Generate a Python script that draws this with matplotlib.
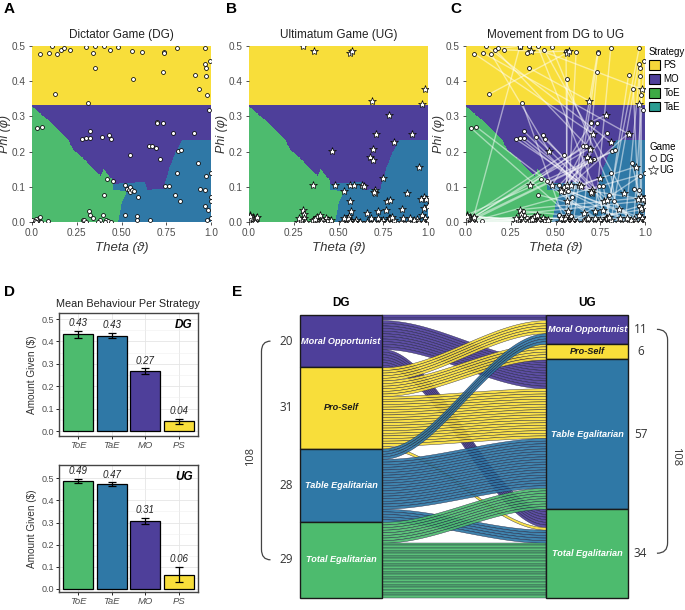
import numpy as np
import matplotlib
matplotlib.use('Agg')
import matplotlib.pyplot as plt
from matplotlib.colors import ListedColormap
from matplotlib.patches import Rectangle, Patch, PathPatch
from matplotlib.lines import Line2D
from matplotlib.path import Path

plt.rcParams['font.family'] = ['Liberation Sans', 'DejaVu Sans']

# strategy colours
col = {'PS': '#F8DE3A', 'MO': '#4E3F9A', 'ToE': '#4DBB6E', 'TaE': '#2F78A6'}
legend_col = {'PS': '#F5D63A', 'MO': '#4E3F9A', 'ToE': '#3DAA44', 'TaE': '#2B9C92'}

# ---- strategy map boundaries (theta, phi)
ps_cut = 0.333
toe_top_theta = [0.0, 0.10, 0.20, 0.23, 0.30, 0.33, 0.385, 0.40, 0.415, 0.46, 0.55]
toe_top_phi = [0.328, 0.285, 0.235, 0.205, 0.175, 0.156, 0.130, 0.152, 0.140, 0.113, 0.100]
tae_top_theta = [0.45, 0.63, 0.645, 0.735, 0.77, 0.80, 0.84, 1.0]
tae_top_phi = [0.108, 0.113, 0.090, 0.095, 0.156, 0.195, 0.233, 0.233]
divider_phi = [0.0, 0.05, 0.088, 0.090, 0.5]
divider_theta = [0.482, 0.50, 0.53, 0.455, 0.455]

# ---- DG participants (circles), by strategy
dg_mo_theta = [0.99, 0.697, 0.697, 0.731, 0.785, 0.907, 0.323, 0.30, 0.28, 0.325, 0.389, 0.43, 0.441,
               0.656, 0.671, 0.69, 0.546, 0.716, 0.815, 0.834]
dg_mo_phi = [0.317, 0.284, 0.28, 0.28, 0.254, 0.252, 0.258, 0.239, 0.235, 0.239, 0.242, 0.246, 0.235,
             0.216, 0.216, 0.209, 0.19, 0.18, 0.201, 0.204]
dg_ps_theta = [0.047, 0.093, 0.112, 0.14, 0.164, 0.179, 0.215, 0.129, 0.342, 0.351, 0.35, 0.40, 0.437,
               0.478, 0.559, 0.615, 0.566, 0.314, 0.736, 0.738, 0.731, 0.809, 0.968, 0.908, 0.964,
               0.972, 0.996, 0.935, 0.97, 0.979, 0.30]
dg_ps_phi = [0.478, 0.481, 0.50, 0.478, 0.489, 0.493, 0.489, 0.363, 0.481, 0.50, 0.438, 0.50, 0.489,
             0.497, 0.485, 0.483, 0.405, 0.339, 0.484, 0.479, 0.427, 0.495, 0.495, 0.417, 0.45,
             0.438, 0.457, 0.377, 0.415, 0.361, 0.497]
dg_tae_theta = [0.52, 0.53, 0.54, 0.545, 0.55, 0.56, 0.57, 0.594, 0.52, 0.589, 0.589, 0.66, 0.744, 0.766,
                0.809, 0.80, 0.828, 0.927, 0.94, 0.968, 0.974, 0.968, 0.981, 1.0, 1.0, 1.0, 1.0, 0.98]
dg_tae_phi = [0.104, 0.095, 0.09, 0.085, 0.10, 0.092, 0.088, 0.072, 0.021, 0.016, 0.005, 0.005, 0.103,
              0.103, 0.14, 0.078, 0.059, 0.168, 0.094, 0.092, 0.131, 0.045, 0.035, 0.01, 0.138, 0.07,
              0.06, 0.005]
dg_toe_theta = [0.03, 0.058, 0.42, 0.454, 0.40, 0.32, 0.323, 0.286, 0.29, 0.38, 0.394, 0.415, 0.425,
                0.037, 0.047, 0.028, 0.09, 0.0, 0.01, 0.02, 0.05, 0.37, 0.44, 0.30, 0.34, 0.0, 0.015,
                0.41, 0.025]
dg_toe_phi = [0.266, 0.27, 0.121, 0.116, 0.078, 0.031, 0.02, 0.005, 0.005, 0.005, 0.02, 0.005, 0.003,
              0.01, 0.015, 0.005, 0.003, 0.0, 0.0, 0.008, 0.0, 0.0, 0.0, 0.0, 0.01, 0.005, 0.003,
              0.0, 0.0]

# ---- UG participants (stars), by strategy
ug_mo_theta = [0.964, 0.783, 0.712, 0.912, 0.81, 0.462, 0.695, 0.675, 0.695, 0.948, 0.748]
ug_mo_phi = [0.334, 0.304, 0.249, 0.249, 0.227, 0.203, 0.206, 0.185, 0.176, 0.157, 0.124]
ug_ps_theta = [0.303, 0.364, 0.564, 0.578, 0.985, 0.688]
ug_ps_phi = [0.50, 0.486, 0.481, 0.486, 0.377, 0.344]
ug_tae_theta = [0.48, 0.531, 0.564, 0.587, 0.63, 0.64, 0.705, 0.705, 0.70, 0.77, 0.79, 0.765, 0.882,
                0.854, 0.564, 0.57, 0.56, 0.546, 0.574, 0.60, 0.658, 0.723, 0.78, 0.79, 0.81, 0.89,
                0.938, 0.966, 0.975, 0.98, 0.99, 0.995, 0.985, 0.55, 0.555, 0.565, 0.70, 0.75, 0.77,
                0.80, 0.85, 0.92, 0.95, 1.0, 1.0, 0.96, 0.59, 0.66, 0.68, 0.62, 0.72, 0.74, 0.86,
                0.90, 0.97, 0.52, 0.53]
ug_tae_phi = [0.104, 0.087, 0.106, 0.106, 0.105, 0.102, 0.09, 0.082, 0.086, 0.059, 0.062, 0.035, 0.082,
              0.037, 0.059, 0.03, 0.016, 0.008, 0.0, 0.005, 0.026, 0.031, 0.01, 0.012, 0.005, 0.0,
              0.008, 0.02, 0.04, 0.07, 0.065, 0.0, 0.01, 0.005, 0.012, 0.0, 0.0, 0.005, 0.0, 0.015,
              0.0, 0.005, 0.0, 0.005, 0.045, 0.065, 0.0, 0.0, 0.01, 0.0, 0.012, 0.0, 0.01, 0.012,
              0.0, 0.0, 0.01]
ug_toe_theta = [0.355, 0.0, 0.01, 0.02, 0.005, 0.03, 0.015, 0.04, 0.0, 0.025, 0.30, 0.305, 0.31, 0.276,
                0.38, 0.385, 0.41, 0.43, 0.45, 0.42, 0.36, 0.29, 0.395, 0.44, 0.0, 0.012, 0.035,
                0.045, 0.32, 0.37, 0.40, 0.28, 0.008, 0.46]
ug_toe_phi = [0.104, 0.0, 0.005, 0.015, 0.02, 0.008, 0.0, 0.01, 0.012, 0.0, 0.035, 0.024, 0.012, 0.0,
              0.015, 0.0, 0.008, 0.012, 0.0, 0.0, 0.005, 0.005, 0.02, 0.005, 0.005, 0.01, 0.0,
              0.015, 0.0, 0.008, 0.0, 0.012, 0.018, 0.005]

# ---- transitions DG (rows) -> UG (cols), order MO, PS, TaE, ToE
sankey_order = ['MO', 'PS', 'TaE', 'ToE']
sankey_names = {'MO': 'Moral Opportunist', 'PS': 'Pro-Self', 'TaE': 'Table Egalitarian',
                'ToE': 'Total Egalitarian'}
flows = np.array([[2, 0, 11, 7],
                  [5, 6, 19, 1],
                  [4, 0, 19, 5],
                  [0, 0, 8, 21]])

# ---- mean behaviour per strategy
bar_labels = ['ToE', 'TaE', 'MO', 'PS']
dg_mean = [0.432, 0.426, 0.268, 0.043]
dg_err = [0.016, 0.011, 0.012, 0.011]
ug_mean = [0.488, 0.474, 0.307, 0.064]
ug_err = [0.009, 0.007, 0.014, 0.035]

W, H = 685, 610
fig = plt.figure(figsize=(W / 100, H / 100), dpi=100)


def px_axes(x0, y0, x1, y1):
    return fig.add_axes([x0 / W, 1 - y1 / H, (x1 - x0) / W, (y1 - y0) / H])


# strategy map grid
theta_grid = np.linspace(0, 1, 400)
phi_grid = np.linspace(0, 0.5, 400)
T, P = np.meshgrid(theta_grid, phi_grid)
toe_top = np.interp(T, toe_top_theta, toe_top_phi)
tae_top = np.interp(T, tae_top_theta, tae_top_phi)
divider = np.interp(P, divider_phi, divider_theta)
region = np.ones(T.shape)
region[(T < divider) & (P < toe_top)] = 2
region[(T >= divider) & (P < tae_top)] = 3
region[P > ps_cut] = 0
cmap = ListedColormap([col['PS'], col['MO'], col['ToE'], col['TaE']])

dg = {'MO': (dg_mo_theta, dg_mo_phi), 'PS': (dg_ps_theta, dg_ps_phi),
      'TaE': (dg_tae_theta, dg_tae_phi), 'ToE': (dg_toe_theta, dg_toe_phi)}
ug = {'MO': (ug_mo_theta, ug_mo_phi), 'PS': (ug_ps_theta, ug_ps_phi),
      'TaE': (ug_tae_theta, ug_tae_phi), 'ToE': (ug_toe_theta, ug_toe_phi)}
dg_all_t = np.concatenate([dg[s][0] for s in sankey_order])
dg_all_p = np.concatenate([dg[s][1] for s in sankey_order])
ug_all_t = np.concatenate([ug[s][0] for s in sankey_order])
ug_all_p = np.concatenate([ug[s][1] for s in sankey_order])

# pair DG and UG points following the transition table
pairs = []
used = {s: 0 for s in sankey_order}
for i, si in enumerate(sankey_order):
    k_dg = 0
    for j, sj in enumerate(sankey_order):
        for n in range(flows[i, j]):
            pairs.append((dg[si][0][k_dg], dg[si][1][k_dg], ug[sj][0][used[sj]], ug[sj][1][used[sj]]))
            k_dg += 1
            used[sj] += 1

titles = ['Dictator Game (DG)', 'Ultimatum Game (UG)', 'Movement from DG to UG']
lefts = [32, 249, 466]
letters = ['A', 'B', 'C']
letter_x = [4, 226, 450]
for k in range(3):
    ax = px_axes(lefts[k], 46, lefts[k] + 179, 222)
    ax.imshow(region, extent=[0, 1, 0, 0.5], origin='lower', aspect='auto', cmap=cmap,
              vmin=-0.5, vmax=3.5, interpolation='nearest')
    if k == 2:
        for t0, p0, t1, p1 in pairs:
            ax.plot([t0, t1], [p0, p1], color='white', alpha=0.5, lw=1.0, zorder=2)
    if k in (0, 2):
        ax.plot(dg_all_t, dg_all_p, 'o', ms=2.8, mfc='white', mec='black', mew=0.55, zorder=3)
    if k in (1, 2):
        ax.plot(ug_all_t, ug_all_p, '*', ms=6, mfc='white', mec='black', mew=0.5, zorder=4)
    ax.set_xlim(0, 1)
    ax.set_ylim(0, 0.5)
    ax.set_xticks([0, 0.25, 0.5, 0.75, 1.0])
    ax.set_xticklabels(['0.0', '0.25', '0.50', '0.75', '1.0'])
    ax.set_yticks([0, 0.1, 0.2, 0.3, 0.4, 0.5])
    ax.set_yticklabels(['0.0', '0.1', '0.2', '0.3', '0.4', '0.5'])
    ax.tick_params(labelsize=7.2, labelcolor='#4D4D4D', length=2.5, width=0.6, color='#333333',
                   pad=2)
    for sp in ax.spines.values():
        sp.set_visible(False)
    ax.set_xlabel('Theta (ϑ)', fontsize=9.5, style='italic', color='#333333', labelpad=3)
    ax.set_ylabel('Phi (φ)', fontsize=9, style='italic', color='#333333')
    ax.yaxis.set_label_coords(-0.115, 0.5)
    ax.set_title(titles[k], fontsize=8.5, color='#222222', pad=6)
    fig.text(letter_x[k] / W, 1 - 13 / H, letters[k], fontsize=11, fontweight='bold')
    if k == 2:
        strat_handles = [Patch(facecolor=legend_col[s], edgecolor='black', lw=0.8, label=s)
                         for s in ['PS', 'MO', 'ToE', 'TaE']]
        leg1 = ax.legend(handles=strat_handles, title='Strategy', loc='upper left',
                         bbox_to_anchor=(0.99, 1.03), frameon=False, fontsize=7,
                         title_fontsize=7, handlelength=1.1, handleheight=1.1,
                         handletextpad=0.4, borderaxespad=0.2, labelspacing=0.4)
        leg1._legend_box.align = 'left'
        ax.add_artist(leg1)
        game_handles = [Line2D([], [], ls='none', marker='o', ms=4.5, mfc='white', mec='#444444',
                               mew=0.7, label='DG'),
                        Line2D([], [], ls='none', marker='*', ms=7, mfc='white', mec='#444444',
                               mew=0.6, label='UG')]
        leg2 = ax.legend(handles=game_handles, title='Game', loc='upper left',
                         bbox_to_anchor=(0.99, 0.49), frameon=False, fontsize=7,
                         title_fontsize=7, handlelength=0.8, handletextpad=0.3,
                         borderaxespad=0.2, labelspacing=0.2)
        leg2._legend_box.align = 'left'

# ---- panel D: bar charts
fig.text(4 / W, 1 - 296 / H, 'D', fontsize=11, fontweight='bold')
fig.text(128 / W, 1 - 307 / H, 'Mean Behaviour Per Strategy', fontsize=7.8, ha='center',
         color='#222222')
bar_cols = [col[s] for s in bar_labels]
for game, means, errs, (y0, y1), ylim in [('DG', dg_mean, dg_err, (313, 436), (-0.022, 0.527)),
                                          ('UG', ug_mean, ug_err, (465, 592), (-0.014, 0.56))]:
    ax = px_axes(59, y0, 198, y1)
    x = np.arange(1, len(bar_labels) + 1)
    ax.bar(x, means, width=0.9, color=bar_cols, edgecolor='black', lw=0.9, zorder=2)
    ax.errorbar(x, means, yerr=errs, fmt='none', ecolor='black', elinewidth=0.9, capsize=3,
                capthick=0.9, zorder=3)
    for xi, m, e in zip(x, means, errs):
        ax.text(xi, m + e + 0.012, f'{m:.2f}', ha='center', va='bottom', fontsize=7,
                style='italic', color='#222222')
    ax.text(0.96, 0.95, game, transform=ax.transAxes, ha='right', va='top', fontsize=8.5,
            fontweight='bold', style='italic')
    ax.set_xlim(0.42, 4.58)
    ax.set_ylim(*ylim)
    ax.set_xticks(x)
    ax.set_xticklabels(bar_labels, style='italic')
    ax.set_yticks([0, 0.1, 0.2, 0.3, 0.4, 0.5])
    ax.set_yticks(np.arange(0.05, 0.55, 0.1), minor=True)
    ax.grid(True, which='major', color='#E5E5E5', lw=0.6, zorder=0)
    ax.grid(True, which='minor', axis='y', color='#F0F0F0', lw=0.4, zorder=0)
    ax.set_axisbelow(True)
    ax.tick_params(which='major', labelsize=6.5, labelcolor='#4D4D4D', length=2, width=0.6, pad=1.5)
    ax.tick_params(which='minor', length=0)
    ax.tick_params(axis='x', labelsize=6.8)
    for sp in ax.spines.values():
        sp.set_color('#444444')
        sp.set_linewidth(1.0)
    ax.set_ylabel('Amount Given (\\$)', fontsize=7.2, color='#333333', labelpad=3)

# ---- panel E: alluvial plot
fig.text(232 / W, 1 - 296 / H, 'E', fontsize=11, fontweight='bold')
ax = fig.add_axes([238.5 / W, 1 - 603 / H, 445.5 / W, 309 / H])
ax.set_xlim(-0.75, 4.68)
ax.set_ylim(110, -8)
ax.axis('off')

dg_tot = flows.sum(axis=1)
ug_tot = flows.sum(axis=0)
left_start = np.concatenate([[0], np.cumsum(dg_tot)[:-1]])
right_start = np.concatenate([[0], np.cumsum(ug_tot)[:-1]])
right_fill = right_start.astype(float).copy()
xs = np.linspace(1, 3, 120)
t = (xs - 1) / 2
s_curve = 3 * t ** 2 - 2 * t ** 3
for i, si in enumerate(sankey_order):
    y_left = left_start[i]
    for j in range(len(sankey_order)):
        for n in range(flows[i, j]):
            top = y_left + (right_fill[j] - y_left) * s_curve
            ax.fill_between(xs, top, top + 1, facecolor=col[si], edgecolor='#1E1E3A', lw=0.3,
                            alpha=0.92)
            y_left += 1
            right_fill[j] += 1

for side, x0, starts, tots in [('DG', 0, left_start, dg_tot), ('UG', 3, right_start, ug_tot)]:
    for k, s in enumerate(sankey_order):
        ax.add_patch(Rectangle((x0, starts[k]), 1, tots[k], facecolor=col[s], edgecolor='#1A1A1A',
                               lw=1.0, zorder=5))
        ax.text(x0 + 0.5, starts[k] + tots[k] / 2, sankey_names[s], ha='center', va='center',
                fontsize=6.6, fontweight='bold', style='italic', zorder=6,
                color='#1A1A1A' if s == 'PS' else 'white')
        nx = -0.17 if side == 'DG' else 4.15
        ax.text(nx, starts[k] + tots[k] / 2, str(tots[k]), ha='center', va='center', fontsize=8.5,
                color='#333333', family=['Open Sans', 'DejaVu Sans'])
    ax.text(x0 + 0.5, -4.5, side, ha='center', va='center', fontsize=8.5, fontweight='bold')


def brace(x_tip, x_line, y_top, y_bot, r):
    verts = [(x_tip, y_top), (x_line, y_top), (x_line, y_top + r), (x_line, y_bot - r),
             (x_line, y_bot), (x_tip, y_bot)]
    codes = [Path.MOVETO, Path.CURVE3, Path.CURVE3, Path.LINETO, Path.CURVE3, Path.CURVE3]
    ax.add_patch(PathPatch(Path(verts, codes), facecolor='none', edgecolor='#444444', lw=0.9))


brace(-0.36, -0.47, left_start[0] + dg_tot[0] / 2, left_start[-1] + dg_tot[-1] / 2, 4)
brace(4.35, 4.48, right_start[0] + ug_tot[0] / 2, right_start[-1] + ug_tot[-1] / 2, 4)
ax.text(-0.6, 54, str(dg_tot.sum()), rotation=90, ha='center', va='center', fontsize=8,
        color='#333333', family=['Open Sans', 'DejaVu Sans'])
ax.text(4.58, 54, str(ug_tot.sum()), rotation=-90, ha='center', va='center', fontsize=8,
        color='#333333', family=['Open Sans', 'DejaVu Sans'])

fig.savefig('out.png', dpi=100)
